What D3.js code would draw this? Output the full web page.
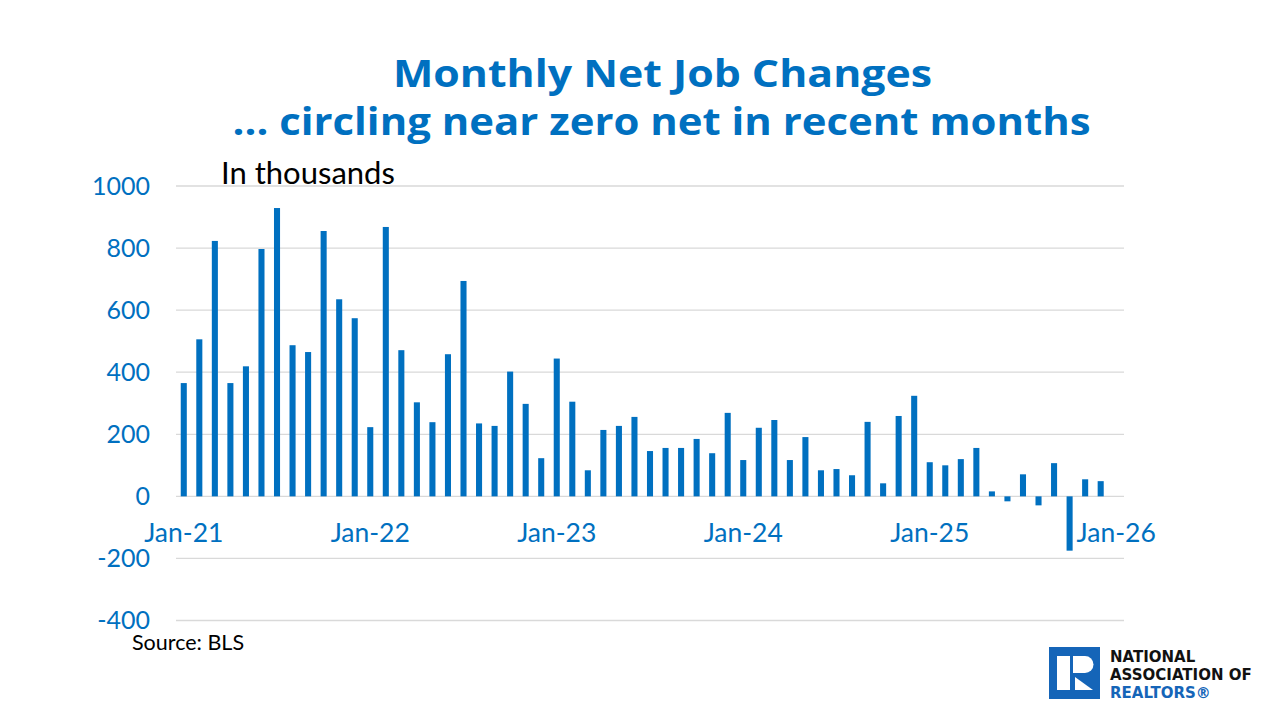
<!DOCTYPE html>
<html>
<head>
<meta charset="utf-8">
<script src="https://cdn.jsdelivr.net/npm/d3@7.9.0/dist/d3.min.js"></script>
<style>
  body { margin: 0; background: #fff; }
  svg { display: block; }
  .tick text { font-family: Lato, sans-serif; }
</style>
</head>
<body>
<svg id="chart" width="1280" height="720"></svg>
<script>
// monthly net job changes, thousands, Jan-21 .. Dec-25
const jobs = [
  365, 506, 823, 365, 419, 797, 929, 487, 465, 855, 635, 574,
  223, 868, 471, 303, 239, 458, 694, 235, 227, 402, 298, 123,
  444, 305, 84, 214, 227, 256, 146, 156, 156, 185, 139, 269,
  117, 221, 246, 117, 191, 84, 88, 68, 240, 42, 259, 324,
  110, 100, 120, 156, 16, -16, 71, -29, 107, -175, 55, 49
];
const yearLabels = ['Jan-21', 'Jan-22', 'Jan-23', 'Jan-24', 'Jan-25', 'Jan-26'];
const yTicks = [-400, -200, 0, 200, 400, 600, 800, 1000];

// one category per month, Jan-26 included with no bar
const months = d3.range(jobs.length + 1);

const blue = '#0070C0';
const svg = d3.select('#chart');

const x = d3.scaleBand()
  .domain(months)
  .range([176, 1124])
  .paddingInner(0.61)
  .paddingOuter(0.305);

const y = d3.scaleLinear()
  .domain([-400, 1000])
  .range([620.5, 186]);

// gridlines
svg.append('g')
  .selectAll('line')
  .data(yTicks)
  .join('line')
  .attr('x1', 176).attr('x2', 1124)
  .attr('y1', d => y(d)).attr('y2', d => y(d))
  .attr('stroke', '#d9d9d9')
  .attr('stroke-width', 1.3);

// y axis labels (plain numbers, ascii minus)
const yAxis = svg.append('g')
  .attr('transform', 'translate(150,0)')
  .call(d3.axisLeft(y).tickValues(yTicks).tickSize(0).tickPadding(0)
    .tickFormat(d => String(d)));
yAxis.select('.domain').remove();
yAxis.selectAll('text')
  .attr('fill', blue)
  .attr('font-size', 25);

// bars
svg.append('g')
  .selectAll('rect')
  .data(jobs)
  .join('rect')
  .attr('x', (d, i) => x(i))
  .attr('width', x.bandwidth())
  .attr('y', d => y(Math.max(0, d)))
  .attr('height', d => Math.abs(y(d) - y(0)))
  .attr('fill', blue);

// x axis: only January labels, drawn below the zero line
const janIdx = yearLabels.map((_, i) => i * 12);
const xAxis = svg.append('g')
  .attr('transform', `translate(0,${y(0)})`)
  .call(d3.axisBottom(x)
    .tickValues(janIdx)
    .tickFormat((d, i) => yearLabels[i])
    .tickSize(0)
    .tickPadding(27));
xAxis.select('.domain').remove();
xAxis.selectAll('text')
  .attr('fill', blue)
  .attr('font-size', 26.5);

// titles (stretched to the width of the original's wide typeface)
const titles = [
  { t: 'Monthly Net Job Changes', x: 662.5, y: 87, w: 539 },
  { t: '... circling near zero net in recent months', x: 661.5, y: 135, w: 858 }
];
svg.selectAll('text.title')
  .data(titles)
  .join('text')
  .attr('class', 'title')
  .attr('x', d => d.x).attr('y', d => d.y)
  .attr('text-anchor', 'middle')
  .attr('font-family', '"Open Sans", sans-serif')
  .attr('font-weight', 'bold')
  .attr('font-size', 37)
  .attr('textLength', d => d.w)
  .attr('lengthAdjust', 'spacingAndGlyphs')
  .attr('fill', blue)
  .text(d => d.t);

svg.append('text')
  .attr('x', 221).attr('y', 184)
  .attr('font-family', 'Lato, sans-serif')
  .attr('font-size', 31)
  .attr('fill', '#000')
  .text('In thousands');

svg.append('text')
  .attr('x', 132).attr('y', 650)
  .attr('font-family', 'Lato, sans-serif')
  .attr('font-size', 21.5)
  .attr('fill', '#000')
  .text('Source: BLS');

// logo
const logo = svg.append('g');
logo.append('rect')
  .attr('x', 1049).attr('y', 647).attr('width', 51).attr('height', 52)
  .attr('fill', '#1565b8');
logo.append('rect')
  .attr('x', 1057).attr('y', 656).attr('width', 13).attr('height', 34)
  .attr('fill', '#fff');
logo.append('path')
  .attr('d', 'M1073,656 H1085 A8,8 0 0 1 1085,673 H1073 Z')
  .attr('fill', '#fff');
logo.append('path')
  .attr('d', 'M1075,677 L1075,690 L1093,690 Z')
  .attr('fill', '#fff');

const logoText = [
  { t: 'NATIONAL', y: 662, c: '#111' },
  { t: 'ASSOCIATION OF', y: 680, c: '#111' },
  { t: 'REALTORS®', y: 698, c: '#1565b8' }
];
logo.selectAll('text.lt')
  .data(logoText)
  .join('text')
  .attr('class', 'lt')
  .attr('x', 1110)
  .attr('y', d => d.y)
  .attr('font-family', '"DejaVu Sans", sans-serif')
  .attr('font-weight', 'bold')
  .attr('font-size', 15)
  .attr('fill', d => d.c)
  .text(d => d.t);
</script>
</body>
</html>
